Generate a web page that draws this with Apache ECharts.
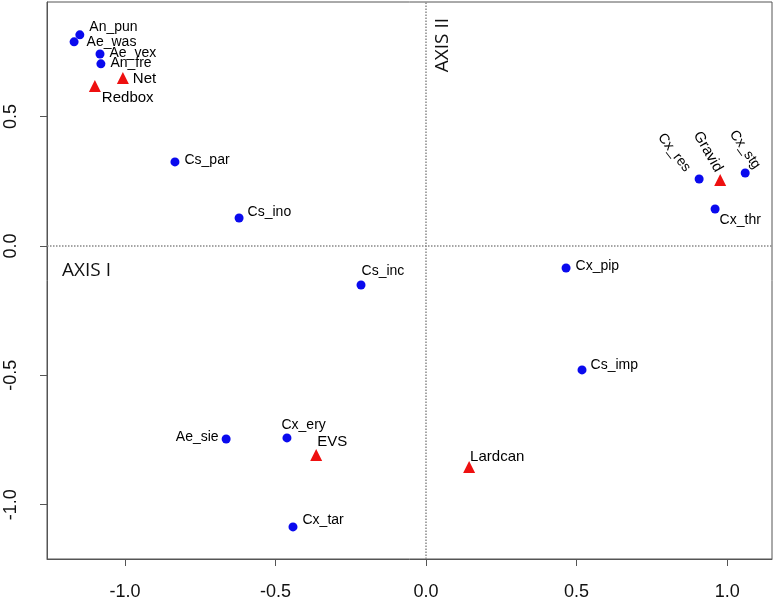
<!DOCTYPE html>
<html>
<head>
<meta charset="utf-8">
<script src="https://cdn.jsdelivr.net/npm/echarts@6/dist/echarts.min.js"></script>
<style>
  html, body { margin: 0; padding: 0; background: #fff; }
</style>
</head>
<body>
<div id="myChart" style="width: 778px; height: 601px"></div>
<script>
// species (blue dots)
const speciesNames = ['An_pun', 'Ae_was', 'Ae_vex', 'An_fre', 'Cs_par', 'Cs_ino', 'Cs_inc', 'Cx_pip', 'Cs_imp',
  'Cx_res', 'Cx_stg', 'Cx_thr', 'Ae_sie', 'Cx_ery', 'Cx_tar'];
const speciesX = [-1.150, -1.169, -1.083, -1.080, -0.834, -0.621, -0.216, 0.465, 0.518,
  0.907, 1.060, 0.960, -0.664, -0.462, -0.442];
const speciesY = [0.816, 0.789, 0.742, 0.704, 0.325, 0.108, -0.151, -0.085, -0.479,
  0.259, 0.282, 0.143, -0.746, -0.742, -1.086];

// trap types (red triangles)
const trapNames = ['Net', 'Redbox', 'Gravid', 'EVS', 'Lardcan'];
const trapX = [-1.007, -1.100, 0.977, -0.365, 0.143];
const trapY = [0.649, 0.618, 0.255, -0.808, -0.854];

const tickValues = [-1.0, -0.5, 0.0, 0.5, 1.0];
const yTickValues = [-1.0, -0.5, 0.0, 0.5];

// label placement per point (offset is in the rotated frame for rotated labels)
const labelStyle = {
  An_pun: { position: 'right', offset: [0, -8] },
  Ae_was: { position: 'right', offset: [3, 0] },
  Ae_vex: { position: 'right', offset: [0, -1] },
  An_fre: { position: 'right', offset: [0, -1] },
  Cs_par: { position: 'right', offset: [0, -2] },
  Cs_ino: { position: 'right', offset: [-1, -6] },
  Cs_inc: { position: 'right', offset: [-9, -14] },
  Cx_pip: { position: 'right', offset: [0, -2] },
  Cs_imp: { position: 'right', offset: [-1, -5] },
  Cx_res: { position: 'left', offset: [-8, -4], rotate: -52 },
  Cx_stg: { position: 'left', offset: [8, -21], rotate: -55 },
  Cx_thr: { position: 'right', offset: [-5, 11] },
  Ae_sie: { position: 'left', offset: [2, -2] },
  Cx_ery: { position: 'right', offset: [-15, -13] },
  Cx_tar: { position: 'right', offset: [0, -7] },
  Net: { position: 'right', offset: [-1, 1] },
  Redbox: { position: 'right', offset: [-4, 12] },
  Gravid: { position: 'left', offset: [-3, -13], rotate: -60 },
  EVS: { position: 'right', offset: [-10, -13] },
  Lardcan: { position: 'right', offset: [-10, -10] }
};

function buildData(names, xs, ys) {
  return names.map((n, i) => ({
    name: n,
    value: [xs[i], ys[i]],
    label: Object.assign({ show: true, formatter: n }, labelStyle[n] || {})
  }));
}

const fmt = (v) => v.toFixed(1);

let myChart = echarts.init(document.getElementById('myChart'));
myChart.setOption({
  animation: false,
  grid: {
    left: 47, right: 6, top: 2, bottom: 42,
    show: true, borderColor: '#555', borderWidth: 1
  },
  graphic: [
    { type: 'text', left: 62, top: 261, style: { text: 'AXIS I', fontSize: 19, fontFamily: 'Open Sans', fill: '#111' } },
    { type: 'text', left: 433, top: 18, rotation: Math.PI / 2, style: { text: 'AXIS II', fontSize: 19, fontFamily: 'Open Sans', fill: '#111' } }
  ],
  xAxis: {
    type: 'value',
    min: -1.259,
    max: 1.149,
    splitLine: { show: false },
    axisLine: { onZero: false, lineStyle: { color: '#555' } },
    axisTick: { customValues: tickValues, length: 7, lineStyle: { color: '#555' } },
    axisLabel: {
      customValues: tickValues, formatter: fmt, margin: 24,
      fontSize: 18, color: '#111', fontFamily: 'Liberation Sans'
    }
  },
  yAxis: {
    type: 'value',
    min: -1.21,
    max: 0.943,
    splitLine: { show: false },
    axisLine: { onZero: false, lineStyle: { color: '#555' } },
    axisTick: { customValues: yTickValues, length: 7, lineStyle: { color: '#555' } },
    axisLabel: {
      customValues: yTickValues, formatter: fmt, margin: 27, rotate: 90,
      fontSize: 18, color: '#111', fontFamily: 'Liberation Sans'
    }
  },
  series: [
    {
      name: 'species',
      type: 'scatter',
      symbol: 'circle',
      symbolSize: 9,
      itemStyle: { color: '#0a0aee', opacity: 1 },
      label: { fontSize: 14, color: '#000', fontFamily: 'Liberation Sans' },
      data: buildData(speciesNames, speciesX, speciesY),
      markLine: {
        silent: true,
        symbol: 'none',
        label: { show: false },
        lineStyle: { color: '#888', type: 'dotted', width: 1.5 },
        data: [{ xAxis: 0 }, { yAxis: 0 }]
      }
    },
    {
      name: 'traps',
      type: 'scatter',
      symbol: 'triangle',
      symbolSize: 12,
      itemStyle: { color: '#ee1010', opacity: 1 },
      label: { fontSize: 15, color: '#000', fontFamily: 'Liberation Sans' },
      data: buildData(trapNames, trapX, trapY)
    }
  ]
});
</script>
</body>
</html>
